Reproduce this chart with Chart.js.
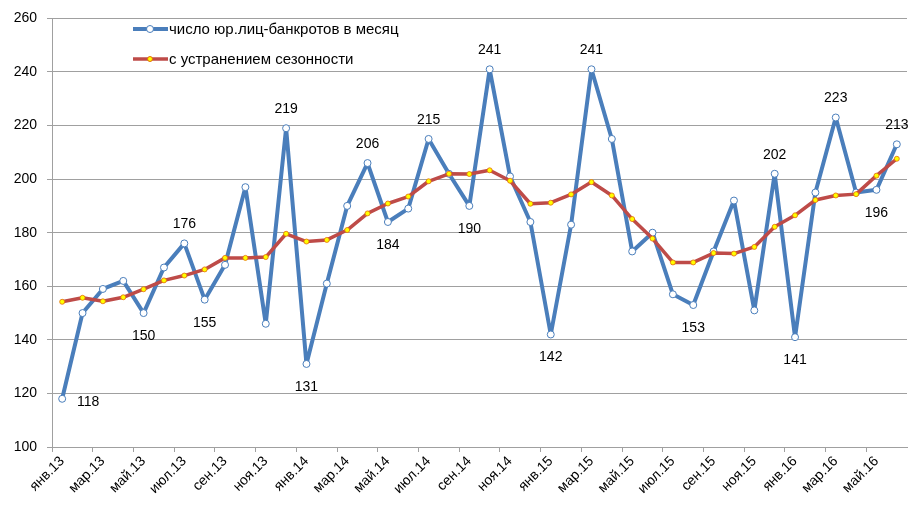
<!DOCTYPE html>
<html lang="ru">
<head>
    <meta charset="UTF-8">
    <title>Юр.лица-банкроты</title>
    <script src="https://cdn.jsdelivr.net/npm/chart.js@4.4.1/dist/chart.umd.min.js"></script>
    <style>
        body { margin: 0; background: #fff; }
        #wrap { width: 912px; height: 505px; }
    </style>
</head>
<body>
    <div id="wrap"><canvas id="myChart"></canvas></div>
    <script>
        const months = [
            'янв.13', 'фев.13', 'мар.13', 'апр.13', 'май.13', 'июн.13', 'июл.13', 'авг.13', 'сен.13', 'окт.13', 'ноя.13', 'дек.13',
            'янв.14', 'фев.14', 'мар.14', 'апр.14', 'май.14', 'июн.14', 'июл.14', 'авг.14', 'сен.14', 'окт.14', 'ноя.14', 'дек.14',
            'янв.15', 'фев.15', 'мар.15', 'апр.15', 'май.15', 'июн.15', 'июл.15', 'авг.15', 'сен.15', 'окт.15', 'ноя.15', 'дек.15',
            'янв.16', 'фев.16', 'мар.16', 'апр.16', 'май.16', 'июн.16'
        ];

        const bankrupts = [
            118, 150, 159, 162, 150, 167, 176, 155, 168, 197, 146, 219,
            131, 161, 190, 206, 184, 189, 215, 202, 190, 241, 201, 184,
            142, 183, 241, 215, 173, 180, 157, 153, 173, 192, 151, 202,
            141, 195, 223, 195, 196, 213
        ];

        const seasonAdj = [
            154.2, 155.7, 154.4, 155.9, 158.9, 162.2, 164.0, 166.3, 170.6, 170.6, 170.9, 179.6,
            176.7, 177.3, 181.0, 187.2, 190.9, 193.5, 199.2, 202.0, 201.9, 203.3, 199.4, 190.8,
            191.2, 194.3, 198.9, 193.9, 185.1, 177.8, 168.9, 168.9, 172.4, 172.2, 174.7, 182.2,
            186.5, 192.2, 193.9, 194.4, 201.3, 207.6
        ];

        const yTicks = [100, 120, 140, 160, 180, 200, 220, 240, 260];

        const seriesNames = ['число юр.лиц-банкротов в месяц', 'с устранением сезонности'];

        // which points of the first series carry a value label, and where
        const labelPlace = {
            0: 'right', 4: 'below', 6: 'above', 7: 'below', 11: 'above', 12: 'below',
            15: 'above', 16: 'below', 18: 'above', 20: 'below', 21: 'above', 24: 'below',
            26: 'above', 31: 'below', 35: 'above', 36: 'below', 38: 'above', 40: 'below', 41: 'above'
        };

        const BLUE = '#4A7EBB';
        const RED = '#BE4B48';
        const GRID = '#A0A0A0';
        const FONT = '"Liberation Sans", Arial, sans-serif';

        const pointLabels = {
            id: 'pointLabels',
            afterDatasetsDraw(chart) {
                const ctx = chart.ctx;
                const meta = chart.getDatasetMeta(0);
                ctx.save();
                ctx.font = '14px ' + FONT;
                ctx.fillStyle = '#000';
                ctx.textAlign = 'center';
                ctx.textBaseline = 'middle';
                Object.keys(labelPlace).forEach(k => {
                    const i = +k;
                    const pt = meta.data[i];
                    let x = pt.x, y = pt.y;
                    if (labelPlace[k] === 'above') y -= 19;
                    else if (labelPlace[k] === 'below') y += 23;
                    else { x += 26; y += 3; }
                    ctx.fillText(String(bankrupts[i]), x, y);
                });
                ctx.restore();
            }
        };

        const legendBox = {
            id: 'legendBox',
            afterDraw(chart) {
                const ctx = chart.ctx;
                const rows = [
                    { name: seriesNames[0], color: BLUE, lw: 4, fill: '#fff', edge: BLUE, r: 3.5, y: 29 },
                    { name: seriesNames[1], color: RED, lw: 3.5, fill: '#FFFF00', edge: '#E46C0A', r: 2.5, y: 59 }
                ];
                ctx.save();
                rows.forEach(row => {
                    ctx.strokeStyle = row.color;
                    ctx.lineWidth = row.lw;
                    ctx.beginPath();
                    ctx.moveTo(133, row.y);
                    ctx.lineTo(168, row.y);
                    ctx.stroke();
                    ctx.beginPath();
                    ctx.arc(150, row.y, row.r, 0, Math.PI * 2);
                    ctx.fillStyle = row.fill;
                    ctx.fill();
                    ctx.lineWidth = 1;
                    ctx.strokeStyle = row.edge;
                    ctx.stroke();
                    ctx.fillStyle = '#000';
                    ctx.font = '15px ' + FONT;
                    ctx.textAlign = 'left';
                    ctx.textBaseline = 'middle';
                    ctx.fillText(row.name, 169, row.y + 1);
                });
                ctx.restore();
            }
        };

        const ctx = document.getElementById('myChart').getContext('2d');
        new Chart(ctx, {
            type: 'line',
            data: {
                labels: months,
                datasets: [
                    {
                        label: seriesNames[0],
                        data: bankrupts,
                        borderColor: BLUE,
                        borderWidth: 4,
                        borderJoinStyle: 'round',
                        pointRadius: 3.5,
                        pointBorderWidth: 1,
                        pointBackgroundColor: '#fff',
                        pointBorderColor: BLUE,
                        tension: 0,
                        fill: false,
                        order: 2
                    },
                    {
                        label: seriesNames[1],
                        data: seasonAdj,
                        borderColor: RED,
                        borderWidth: 3.5,
                        borderJoinStyle: 'round',
                        pointRadius: 2.5,
                        pointBorderWidth: 0.8,
                        pointBackgroundColor: '#FFFF00',
                        pointBorderColor: '#E46C0A',
                        tension: 0,
                        fill: false,
                        order: 1
                    }
                ]
            },
            options: {
                responsive: true,
                maintainAspectRatio: false,
                animation: false,
                layout: { padding: { top: 12, right: 0, left: 0, bottom: 0 } },
                plugins: {
                    legend: { display: false },
                    tooltip: { enabled: false }
                },
                scales: {
                    x: {
                        offset: true,
                        grid: {
                            offset: true,
                            drawOnChartArea: false,
                            tickLength: 5,
                            color: c => (c.index % 2 === 0 ? GRID : 'rgba(0,0,0,0)')
                        },
                        border: { color: GRID },
                        ticks: {
                            autoSkip: false,
                            maxRotation: 45,
                            minRotation: 45,
                            color: '#000',
                            font: { family: FONT, size: 14 },
                            padding: 1,
                            callback: (v, i) => (i % 2 === 0 ? months[i] : '')
                        },
                        afterFit: s => { s.height = 58; }
                    },
                    y: {
                        min: 100,
                        max: 260,
                        afterBuildTicks: s => { s.ticks = yTicks.map(v => ({ value: v })); },
                        grid: { color: GRID, tickLength: 5 },
                        border: { color: GRID },
                        ticks: {
                            color: '#000',
                            font: { family: FONT, size: 14 },
                            padding: 10
                        },
                        afterFit: s => { s.width = 52; }
                    }
                }
            },
            plugins: [pointLabels, legendBox]
        });
    </script>
</body>
</html>
